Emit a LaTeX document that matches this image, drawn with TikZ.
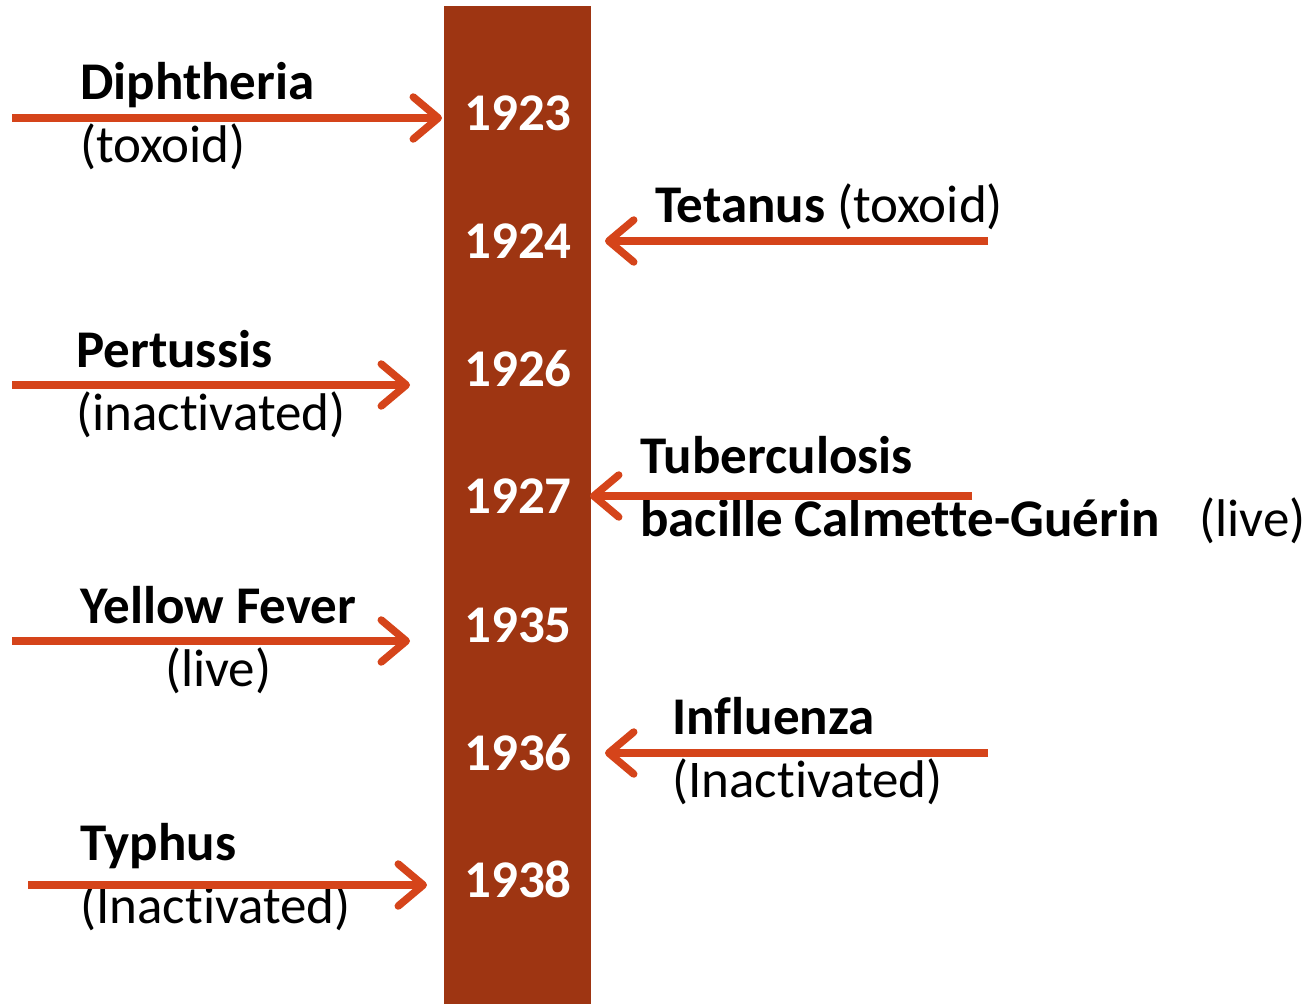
\documentclass[tikz,border=0pt]{standalone}
\usepackage{fontspec}
\setmainfont{Carlito}[Ligatures=NoCommon]
\usetikzlibrary{arrows.meta}
\definecolor{vaxRust}{HTML}{9E3512}
\definecolor{vaxOrange}{HTML}{D5441A}
\newcommand{\nolig}{\kern0pt{}}
\tikzset{
  vax bar/.style={fill=vaxRust, draw=none},
  vax arrow/.style={draw=vaxOrange, line width=7.5pt, -{Straight Barb[length=25pt, width=42pt, round]}},
  vax year/.style={font=\fontsize{53}{63}\selectfont\bfseries, text=white, anchor=base, inner sep=0pt},
  vax label/.style={font=\fontsize{53}{63}\selectfont, text=black, anchor=base west, inner sep=0pt, align=left},
}

\begin{document}
\begin{tikzpicture}[x=1pt, y=-1pt]
  \useasboundingbox (0,0) rectangle (1309,1004);

  % Timeline bar
  \fill[vax bar] (444,6) rectangle (591,1004);

  % Years down the bar
  \foreach \yr/\yy in {1923/130, 1924/258, 1926/386, 1927/513, 1935/642, 1936/770, 1938/897} {
    \node[vax year] (y\yr) at (518,\yy) {\yr};
  }

  % Vaccine labels (anchored on the baseline of the last line)
  \node[vax label] (diph) at (80,162) {\textbf{Diphtheria}\\(toxoid)};
  \node[vax label] (tet) at (655,222) {\textbf{Tetanus} (toxoid)};
  \node[vax label] (pert) at (76,430) {\textbf{Pertussis}\\(inact\nolig ivated)};
  \node[vax label] (tb) at (640,536) {\textbf{Tuberculosis}\\\textbf{bacille Calmet\nolig te-Guérin}\hspace{40pt}(live)};
  \node[vax label, align=center] (yf) at (80,686) {\textbf{Yellow Fever}\\(live)};
  \node[vax label] (flu) at (672,797) {\textbf{In\nolig f\nolig luenza}\\(Inact\nolig ivated)};
  \node[vax label] (typh) at (80,923) {\textbf{Typhus}\\(Inact\nolig ivated)};

  % Arrows toward the bar
  \foreach \nm/\xa/\xb/\yy in {diph/12/442/118, tet/988/605/241, pert/12/410/385, tb/972/590/496,
                               yf/12/410/641, flu/988/605/753, typh/28/427/885} {
    \coordinate (\nm-s) at (\xa,\yy);
    \coordinate (\nm-e) at (\xb,\yy);
    \draw[vax arrow] (\nm-s) -- (\nm-e);
  }
\end{tikzpicture}
\end{document}
